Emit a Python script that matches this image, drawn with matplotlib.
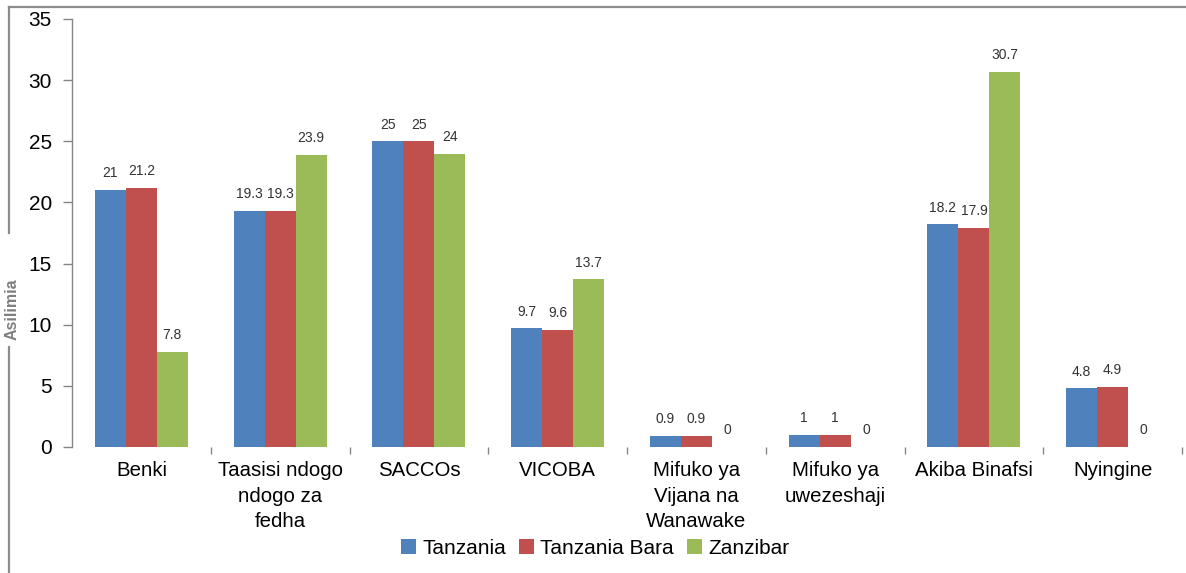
import numpy as np
import matplotlib
matplotlib.use('Agg')
import matplotlib.pyplot as plt
from matplotlib.lines import Line2D

plt.rcParams['font.family'] = ['Liberation Sans', 'DejaVu Sans']

# data
categories = ['Benki', 'Taasisi ndogo\nndogo za\nfedha', 'SACCOs', 'VICOBA',
              'Mifuko ya\nVijana na\nWanawake', 'Mifuko ya\nuwezeshaji',
              'Akiba Binafsi', 'Nyingine']
series_names = ['Tanzania', 'Tanzania Bara', 'Zanzibar']
tanzania = [21, 19.3, 25, 9.7, 0.9, 1, 18.2, 4.8]
tanzania_bara = [21.2, 19.3, 25, 9.6, 0.9, 1, 17.9, 4.9]
zanzibar = [7.8, 23.9, 24, 13.7, 0, 0, 30.7, 0]
yticks = [0, 5, 10, 15, 20, 25, 30, 35]

colors = ['#4F81BD', '#C0504D', '#9BBB59']

W, H = 1186, 573
fig = plt.figure(figsize=(W / 100, H / 100), dpi=100)
ax = fig.add_axes([72 / W, 1 - 447 / H, (1182 - 72) / W, (447 - 19) / H])

x = np.arange(len(categories))
bw = 0.223
for i, (vals, name) in enumerate(zip([tanzania, tanzania_bara, zanzibar], series_names)):
    pos = x + (i - 1) * bw
    ax.bar(pos, vals, bw, color=colors[i], label=name, zorder=3)
    for px, v in zip(pos, vals):
        ax.annotate(f'{v:g}', (px, v), xytext=(0, 7), textcoords='offset points',
                    ha='center', va='bottom', fontsize=10, color='#333333')

ax.set_xlim(-0.5, len(categories) - 0.5)
ax.set_ylim(0, 35)
ax.set_yticks(yticks)
ax.tick_params(axis='y', labelsize=15, length=6.5, width=1, color='#868686', pad=8)

ax.set_xticks(x)
ax.set_xticklabels(categories, fontsize=14.7, linespacing=1.45)
ax.set_xticks(np.arange(0.5, len(categories), 1), minor=True)
ax.tick_params(axis='x', which='major', length=0, pad=10)
ax.tick_params(axis='x', which='minor', length=5, width=1, color='#868686')

for s in ['top', 'right', 'bottom']:
    ax.spines[s].set_visible(False)
ax.spines['left'].set_color('#868686')
ax.spines['left'].set_linewidth(1)

fig.legend(loc='center', bbox_to_anchor=(0.502, 1 - 548 / H), ncol=3, frameon=False,
           fontsize=15, handlelength=0.7, handleheight=0.7, handletextpad=0.3,
           columnspacing=0.65, borderaxespad=0)

# y label crossing the outer frame
fig.text(12 / W, 1 - 309 / H, 'Asilimia', rotation=90, ha='center', va='center',
         fontsize=11.5, fontweight='bold', color='#7f7f7f')

# outer grey frame (top and broken left edge)
frame_kw = dict(color='#8c8c8c', linewidth=1.6, transform=fig.transFigure)
fig.add_artist(Line2D([9 / W, 1], [1 - 7 / H, 1 - 7 / H], **frame_kw))
fig.add_artist(Line2D([9 / W, 9 / W], [1 - 7 / H, 1 - 233 / H], **frame_kw))
fig.add_artist(Line2D([9 / W, 9 / W], [1 - 347 / H, 0], **frame_kw))

fig.savefig('out.png', dpi=100)
